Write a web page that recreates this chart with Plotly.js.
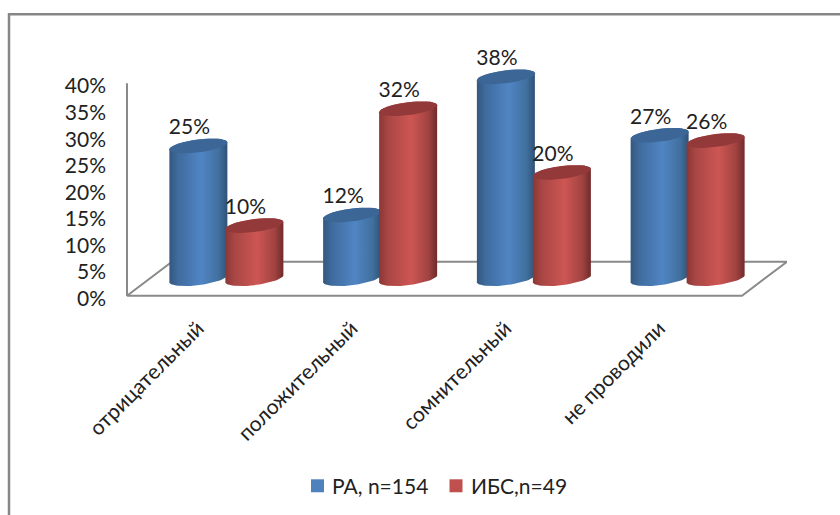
<!DOCTYPE html>
<html>
<head>
<meta charset="utf-8">
<script src="https://cdn.plot.ly/plotly-3.0.1.min.js"></script>
<style>html,body{margin:0;padding:0;background:#fff}</style>
</head>
<body>
<div id="chart" style="width:840px;height:515px"></div>
<script>
// Survey outcomes per group, percent of patients
const categories = ['отрицательный', 'положительный', 'сомнительный', 'не проводили'];
const seriesRA = [25, 12, 38, 27];
const seriesIBS = [10, 32, 20, 26];
const seriesNames = ['РА, n=154', 'ИБС,n=49'];
const yTicks = [0, 5, 10, 15, 20, 25, 30, 35, 40];

// Pixel layout of the plot box
const W = 840, H = 515;
const pxX = 153.75, pxY = 5.325;          // pixels per category, pixels per percent
const originX = 127, originY = 296;       // screen position of the axes' corner
const xStart = -0.5 - 5 / pxX, xEnd = -0.5 + 660 / pxX;
const yStart = -1, yEnd = 50;
const M = {
  l: originX - 5, r: W - originX - 660,
  t: originY - yEnd * pxY, b: H - originY + yStart * pxY,
  autoexpand: false
};
const plotW = W - M.l - M.r, plotH = H - M.t - M.b;
const paperX = px => (px - M.l) / plotW;
const paperY = px => (H - M.b - px) / plotH;

// Pseudo-3D projection of the floor and the cylinders on it
const depthX = 45 / pxX, depthY = 34 / pxY;
const radius = 29 / pxX, shift = 56 / pxX;
const tilt = 3.5 / pxY, minor = 6.5 / pxY;
const labelLift = 17 / pxY, labelShift = -9 / pxX;
const textColor = '#222222';

const steps = 36;
function rim(cx, cy, from, to) {
  const xs = [], ys = [];
  for (let i = 0; i <= steps; i++) {
    const t = from + (to - from) * i / steps;
    xs.push(cx + radius * Math.cos(t));
    ys.push(cy + tilt * Math.cos(t) + minor * Math.sin(t));
  }
  return {xs, ys};
}

const palette = [
  {base: '#4f81bd', top: '#3c6695',
   scale: [[0, '#34587f'], [0.15, '#3f6b9e'], [0.55, '#5085c4'], [0.85, '#41709f'], [1, '#2f5278']]},
  {base: '#c0504d', top: '#93393a',
   scale: [[0, '#8a3735'], [0.15, '#a84644'], [0.55, '#cd5653'], [0.85, '#a14341'], [1, '#6f2b2a']]}
];

function cylinder(cx, value, look, name) {
  const base = depthY / 2, topY = value + base;
  const bottom = rim(cx, base, Math.PI, 2 * Math.PI);   // runs under the body, left to right
  const upper = rim(cx, topY, 0, Math.PI);              // back along the top edge
  const cap = rim(cx, topY, 0, 2 * Math.PI);
  return [
    {x: bottom.xs.concat(upper.xs), y: bottom.ys.concat(upper.ys), type: 'scatter', mode: 'lines', name,
     line: {width: 0}, fill: 'toself', showlegend: false, hoverinfo: 'skip',
     fillgradient: {type: 'horizontal', start: cx - radius, stop: cx + radius, colorscale: look.scale}},
    {x: cap.xs, y: cap.ys, type: 'scatter', mode: 'lines', name,
     line: {width: 0}, fill: 'toself', fillcolor: look.top, showlegend: false, hoverinfo: 'skip'}
  ];
}

const traces = [];

// Value axis and floor, drawn first so the cylinders stand on them
traces.push({
  x: [-0.5, -0.5, -0.5 + depthX, -0.5 + depthX + 4, -0.5 + 4, -0.5],
  y: [40, 0, depthY, depthY, 0, 0],
  type: 'scatter', mode: 'lines', line: {color: '#8a8a8a', width: 2},
  showlegend: false, hoverinfo: 'skip'
});

categories.forEach((c, i) => {
  const cx = i + depthX / 2;
  traces.push(...cylinder(cx - shift / 2, seriesRA[i], palette[0], seriesNames[0]));
  traces.push(...cylinder(cx + shift / 2, seriesIBS[i], palette[1], seriesNames[1]));
});

// Value labels above each cylinder
[seriesRA, seriesIBS].forEach((vals, s) => traces.push({
  x: vals.map((v, i) => i + depthX / 2 + (s ? shift / 2 : -shift / 2) + labelShift),
  y: vals.map(v => v + depthY / 2 + labelLift),
  text: vals.map(v => v + '%'),
  type: 'scatter', mode: 'text', textposition: 'middle center', cliponaxis: false,
  textfont: {family: 'Lato', size: 21, color: textColor},
  showlegend: false, hoverinfo: 'skip'
}));

// Legend row: swatch left edges and label starts on screen
const swatchX = [311, 449.5], labelX = [331, 470], legendY = 486.5, swatch = 13;

const layout = {
  width: W, height: H,
  margin: M,
  showlegend: false,
  paper_bgcolor: '#fff', plot_bgcolor: 'rgba(0,0,0,0)',
  font: {family: 'Lato', size: 21, color: textColor},
  xaxis: {
    range: [xStart, xEnd], tickmode: 'array', tickvals: categories.map((c, i) => i), ticktext: categories,
    tickangle: -45, showgrid: false, zeroline: false, showline: false, ticks: '', fixedrange: true,
    ticklabelstandoff: 10, ticklabelshift: -6,
    tickfont: {family: 'Lato', size: 21, color: textColor}
  },
  yaxis: {
    range: [yStart, yEnd], tickmode: 'array', tickvals: yTicks, ticktext: yTicks.map(v => v + '%'),
    showgrid: false, zeroline: false, showline: false,
    ticks: '', ticklabelstandoff: 15, ticklabelshift: 3, fixedrange: true,
    tickfont: {family: 'Lato', size: 21, color: textColor}
  },
  annotations: seriesNames.map((name, s) => ({
    text: name, xref: 'paper', yref: 'paper', x: paperX(labelX[s]), y: paperY(legendY),
    xanchor: 'left', yanchor: 'middle', showarrow: false,
    borderpad: 0, font: {family: 'Lato', size: 21, color: textColor}
  })),
  shapes: [{
    type: 'rect', xref: 'paper', yref: 'paper', layer: 'below',
    x0: paperX(9), x1: paperX(W + 10), y0: paperY(H + 10), y1: paperY(14),
    line: {color: '#868686', width: 2.5}, fillcolor: '#fff'
  }].concat(seriesNames.map((name, s) => ({
    type: 'rect', xref: 'paper', yref: 'paper',
    x0: paperX(swatchX[s]), x1: paperX(swatchX[s] + swatch),
    y0: paperY(legendY + swatch / 2), y1: paperY(legendY - swatch / 2),
    line: {width: 0}, fillcolor: palette[s].base
  })))
};

Plotly.newPlot('chart', traces, layout, {displayModeBar: false});
</script>
</body>
</html>
